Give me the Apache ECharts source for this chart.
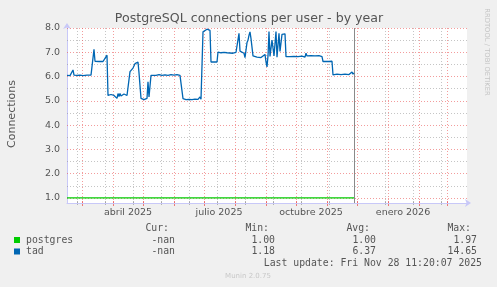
<!DOCTYPE html>
<html><head><meta charset="utf-8">
<script src="https://cdn.jsdelivr.net/npm/echarts@6/dist/echarts.min.js"></script>
<style>html,body{margin:0;padding:0;background:#f0f0f0}#c{width:497px;height:287px}</style>
</head><body><div id="c"></div>
<script>
// ---- data ----
const startDate = '2025-02-14';
const endDate = '2026-03-21';
const nowDate = '2025-11-28';
const tadDay = [0,3,5,6,7,10,13,16,20,24,26,27,28,32,36,38,40,41,42,43,44,45,46,47,48,49,50,51,52,53,54,55,56,57,58,59,60,61,62,63,64,65,66,67,68,69,70,71,72,73,74,75,77,79,80,81,82,84,86,89,92,95,98,101,104,107,110,113,115,116,119,122,125,128,131,133,134,135,136,137,138,140,142,143,144,145,147,150,151,152,153,154,155,156,157,158,159,160,161,162,163,164,165,166,167,168,169,170,171,172,173,175,177,178,180,181,182,183,184,186,188,190,192,194,196,198,199,200,201,202,203,205,207,209,210,212,213,215,216,218,219,221,223,225,227,229,231,233,235,237,238,239,240,242,244,246,248,250,252,254,255,256,258,262,265,266,268,270,272,274,276,278,280,282,284,285,286,287];
const tadValue = [6.05,6.04,6.08,6.27,6.06,6.05,6.06,6.04,6.06,6.06,6.1,7.12,6.63,6.62,6.62,6.75,6.88,5.22,5.3,5.18,5.26,5.2,5.34,5.22,5.15,5.25,5.1,5.3,5.18,5.3,5.2,5.25,5.12,5.28,5.2,5.32,5.22,5.3,5.25,6.2,6.26,6.2,6.35,6.3,6.53,6.58,6.6,6.6,6.15,6.1,5.1,5.05,5.05,5.06,5.1,5.78,5.16,6.05,6.07,6.05,6.08,6.05,6.07,6.05,6.08,6.06,6.08,6.05,6.07,5.09,5.05,5.06,5.05,5.07,5.06,5.16,5.07,5.1,7.84,7.88,7.92,7.95,7.9,7.9,6.6,6.58,6.6,6.6,7.01,6.95,7.05,6.98,7.02,6.93,7.0,6.96,7.05,6.98,7.0,6.92,6.97,6.95,7.05,6.96,6.98,6.94,7.0,6.97,7.02,7.78,7.05,7.05,6.96,6.78,7.4,7.5,7.7,7.84,7.56,6.85,6.82,6.8,6.85,6.78,6.84,6.91,6.6,6.4,6.85,7.85,6.83,7.5,6.85,7.85,6.8,7.78,7.03,7.74,7.76,7.76,6.82,6.84,6.82,6.86,6.83,6.85,6.82,6.86,6.84,6.87,6.8,6.96,6.85,6.82,6.86,6.84,6.85,6.82,6.86,6.84,6.82,6.62,6.61,6.62,6.63,6.07,6.05,6.1,6.05,6.08,6.04,6.1,6.06,6.08,6.06,6.19,6.1,6.15];
const postgresDay = [0, 287];
const postgresValue = [1.0, 1.0];
const monthStarts = ['2025-03-01','2025-04-01','2025-05-01','2025-06-01','2025-07-01','2025-08-01','2025-09-01','2025-10-01','2025-11-01','2025-12-01','2026-01-01','2026-02-01','2026-03-01'];
const minorDates = ['2025-02-24','2025-03-24','2025-04-21','2025-05-19','2025-06-16','2025-07-14','2025-08-11','2025-09-08','2025-10-06','2025-11-03','2025-12-29','2026-01-26','2026-02-23'];
const labelDates = ['2025-04-16','2025-07-16','2025-10-16','2026-01-16'];
const tickLabels = ['abril 2025','julio 2025','octubre 2025','enero 2026'];
const yMajor = [1,2,3,4,5,6,7,8];
const yMinor = [1.5,2.5,3.5,4.5,5.5,6.5,7.5];
const legendNames = ['postgres','tad'];
const colHeaders = ['Cur:','Min:','Avg:','Max:'];
const curVals = ['-nan','-nan'];
const minVals = ['1.00','1.18'];
const avgVals = ['1.00','6.37'];
const maxVals = ['1.97','14.65'];
const titleText = 'PostgreSQL connections per user - by year';
const yName = 'Connections';
const lastUpdate = 'Last update: Fri Nov 28 11:20:07 2025';
const munin = 'Munin 2.0.75';
const rrd = 'RRDTOOL / TOBI OETIKER';

// ---- build ----
const DAY = 86400000;
const t = s => Date.parse(s + 'T00:00:00Z');
const start = t(startDate);
const tadData = tadDay.map((d,i)=>[start + d*DAY, tadValue[i]]);
const pgData = postgresDay.map((d,i)=>[start + d*DAY, postgresValue[i]]);
const labelTs = labelDates.map(t);
const colors = ['#00cc00','#0066b3'];
const MGRID = 'rgba(235,90,90,0.6)';
const GRID = 'rgba(150,150,150,0.55)';
const AX = '#c8c8f8';
const YMIN = 0.79, YMAX = 8;

const chart = echarts.init(document.getElementById('c'), null, {renderer:'canvas'});
const gridLine = (color) => ({type:[1,2], color, width:1});
const option = {
  backgroundColor:'#f0f0f0',
  animation:false,
  grid:{left:67,right:30,top:28,bottom:84,show:true,backgroundColor:'#ffffff',borderWidth:0},
  xAxis:{type:'value',min:start,max:t(endDate),
    axisLine:{show:true,lineStyle:{color:AX,width:1},symbol:['none','arrow'],symbolSize:[6,6],symbolOffset:[0,4]},
    axisTick:{show:false},
    splitLine:{show:false},
    axisLabel:{show:true,customValues:labelTs,margin:5,color:'#555',fontSize:9.5,fontFamily:'DejaVu Sans',
      formatter:(v)=>{const i=labelTs.indexOf(v);return i>=0?tickLabels[i]:'';}}
  },
  yAxis:{type:'value',min:YMIN,max:YMAX,
    axisLine:{show:true,lineStyle:{color:AX,width:1},symbol:['none','arrow'],symbolSize:[6,6],symbolOffset:[0,5]},
    axisTick:{show:false},
    splitLine:{show:false},
    axisLabel:{customValues:yMajor,margin:7,color:'#555',fontSize:9.5,fontFamily:'DejaVu Sans',formatter:(v)=>v.toFixed(1)}
  },
  series:[
    {type:'line',data:[],z:1,silent:true,
      markLine:{silent:true,symbol:['none','none'],label:{show:false},animation:false,
        lineStyle:gridLine(GRID),
        data:[...minorDates.map(d=>({xAxis:t(d)})),...yMinor.map(v=>({yAxis:v}))]}},
    {type:'line',data:[],z:2,silent:true,
      markLine:{silent:true,symbol:['none','none'],label:{show:false},animation:false,
        lineStyle:gridLine(MGRID),
        data:[...monthStarts.map(d=>({xAxis:t(d)})),...yMajor.map(v=>({yAxis:v}))]}},
    {name:'postgres',type:'line',data:pgData,showSymbol:false,z:5,lineStyle:{color:colors[0],width:1.3},itemStyle:{color:colors[0]}},
    {name:'tad',type:'line',data:tadData,showSymbol:false,z:6,lineStyle:{color:colors[1],width:1.3},itemStyle:{color:colors[1]},
      markLine:{silent:true,symbol:['none','none'],label:{show:false},animation:false,
        lineStyle:{type:'solid',color:'#8a8a8a',width:1},data:[{xAxis:t(nowDate)}]}}
  ]
};
chart.setOption(option);

// axis ticks and texts
const g = [];
const yb = chart.convertToPixel({yAxisIndex:0}, YMIN);
monthStarts.forEach(d=>{const x=Math.round(chart.convertToPixel({xAxisIndex:0}, t(d)))+0.5;
  g.push({type:'line',shape:{x1:x,y1:yb-2,x2:x,y2:yb+3},style:{stroke:'rgba(235,90,90,0.8)',lineWidth:1}});});
minorDates.forEach(d=>{const x=Math.round(chart.convertToPixel({xAxisIndex:0}, t(d)))+0.5;
  g.push({type:'line',shape:{x1:x,y1:yb-2,x2:x,y2:yb+2},style:{stroke:'rgba(150,150,150,0.7)',lineWidth:1}});});
const txt = (text,x,y,opts) => g.push(Object.assign({type:'text',x,y,silent:true,
  style:Object.assign({text,fill:'#555',font:'9.8px "DejaVu Sans Mono"',align:'left',verticalAlign:'middle'},opts||{})}));
g.push({type:'text',x:249,y:19,style:{text:titleText,fill:'#555',font:'12.6px "DejaVu Sans"',align:'center',verticalAlign:'middle'}});
g.push({type:'text',x:12,y:114,rotation:Math.PI/2,style:{text:yName,fill:'#555',font:'11px "DejaVu Sans"',align:'center',verticalAlign:'middle'}});
g.push({type:'text',x:487,y:52,rotation:-Math.PI/2,style:{text:rrd,fill:'#c4c4c4',font:'6.8px "DejaVu Sans"',align:'center',verticalAlign:'middle'}});
const colX = [175,275,376,477];
colHeaders.forEach((h,i)=>txt(h,colX[i]-6,228,{align:'right'}));
legendNames.forEach((n,r)=>{
  const y = 240 + r*11.5;
  g.push({type:'rect',shape:{x:14,y:y-3,width:6,height:6},style:{fill:colors[r]}});
  txt(n,26,y);
  [curVals,minVals,avgVals,maxVals].forEach((arr,i)=>txt(arr[r],colX[i],y,{align:'right'}));
});
txt(lastUpdate,482,263.5,{align:'right'});
g.push({type:'text',x:248,y:276.5,style:{text:munin,fill:'#c8c8c8',font:'7px "DejaVu Sans"',align:'center',verticalAlign:'middle'}});
chart.setOption({graphic:g});
</script></body></html>
